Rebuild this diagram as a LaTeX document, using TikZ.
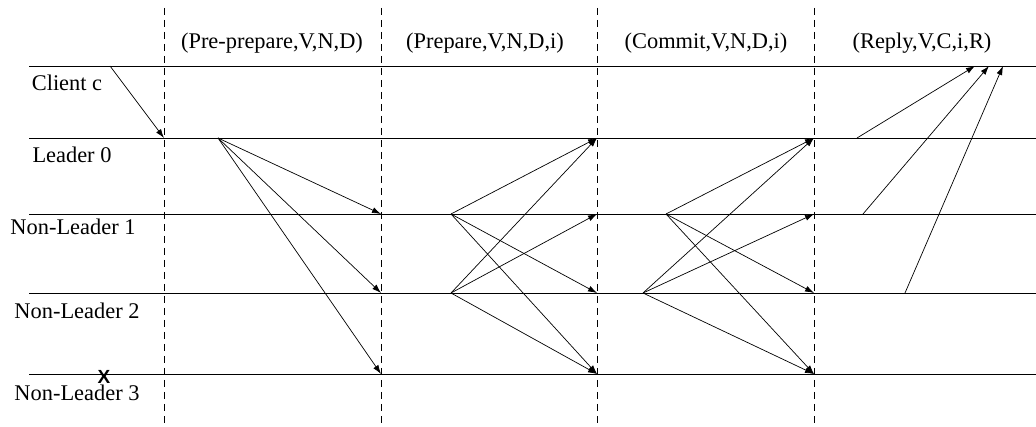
\documentclass[tikz,border=0pt]{standalone}
\usepackage{fontspec}
\setmainfont{Liberation Serif}
\newfontfamily\xfont{Liberation Sans}
\usetikzlibrary{arrows.meta}
\begin{document}
\begin{tikzpicture}[x=1pt,y=-1pt,
  lane/.style={line width=0.9pt},
  phase/.style={line width=0.8pt,dash pattern=on 7pt off 5pt},
  msg/.style={line width=0.7pt,-{Latex[length=9pt,width=6pt]}},
  lbl/.style={anchor=base,inner sep=0pt,font=\fontsize{22.4}{26}\selectfont}]
\useasboundingbox (0,0) rectangle (1036,427);
% lanes
\foreach \n/\y in {c/66,l0/138,n1/214,n2/293,n3/374}{
  \coordinate (\n s) at (29,\y);
  \coordinate (\n e) at (1036,\y);
  \draw[lane] (\n s) -- (\n e);
}
% phase separators
\foreach \n/\x in {p1/164,p2/381,p3/597,p4/814}{
  \coordinate (\n t) at (\x,8);
  \coordinate (\n b) at (\x,427);
  \draw[phase] (\n t) -- (\n b);
}
% labels
\node[lbl] (tpp) at (272,49) {(Pre-prepare,V,N,D)};
\node[lbl] (tpr) at (485,49) {(Prepare,V,N,D,i)};
\node[lbl] (tco) at (706,49) {(Commit,V,N,D,i)};
\node[lbl] (tre) at (922,49) {(Reply,V,C,i,R)};
\node[lbl] (lc) at (67,91) {Client c};
\node[lbl] (ll0) at (72,163) {Leader 0};
\node[lbl] (ln1) at (73,235) {Non-Leader 1};
\node[lbl] (ln2) at (77,319) {Non-Leader 2};
\node[lbl] (ln3) at (77,400) {Non-Leader 3};
\node[inner sep=0pt,font=\xfont\bfseries\fontsize{19}{20}\selectfont] (crash) at (104,377) {X};
% points
\coordinate (c0) at (110,66);
\coordinate (l0a) at (164,138);
\coordinate (l0b) at (218,138);
\coordinate (n1a) at (381,214);
\coordinate (n2a) at (381,293);
\coordinate (n3a) at (381,374);
\coordinate (n1b) at (451,214);
\coordinate (n2b) at (451,293);
\coordinate (l0c) at (597,138);
\coordinate (n1c) at (597,214);
\coordinate (n2c) at (597,293);
\coordinate (n3c) at (597,374);
\coordinate (n1d) at (666,214);
\coordinate (n2d) at (643,293);
\coordinate (l0e) at (814,138);
\coordinate (n1e) at (814,214);
\coordinate (n2e) at (814,293);
\coordinate (n3e) at (814,374);
\coordinate (l0f) at (857,138);
\coordinate (n1f) at (863,214);
\coordinate (n2f) at (905,293);
\coordinate (r1) at (975,66);
\coordinate (r2) at (989,66);
\coordinate (r3) at (1003,66);
% request
\draw[msg] (c0) -- (l0a);
% pre-prepare
\draw[msg] (l0b) -- (n1a);
\draw[msg] (l0b) -- (n2a);
\draw[msg] (l0b) -- (n3a);
% prepare
\draw[msg] (n1b) -- (l0c);
\draw[msg] (n1b) -- (n2c);
\draw[msg] (n1b) -- (n3c);
\draw[msg] (n2b) -- (l0c);
\draw[msg] (n2b) -- (n1c);
\draw[msg] (n2b) -- (n3c);
% commit
\draw[msg] (n1d) -- (l0e);
\draw[msg] (n1d) -- (n2e);
\draw[msg] (n1d) -- (n3e);
\draw[msg] (n2d) -- (l0e);
\draw[msg] (n2d) -- (n1e);
\draw[msg] (n2d) -- (n3e);
% reply
\draw[msg] (l0f) -- (r1);
\draw[msg] (n1f) -- (r2);
\draw[msg] (n2f) -- (r3);
\end{tikzpicture}
\end{document}
